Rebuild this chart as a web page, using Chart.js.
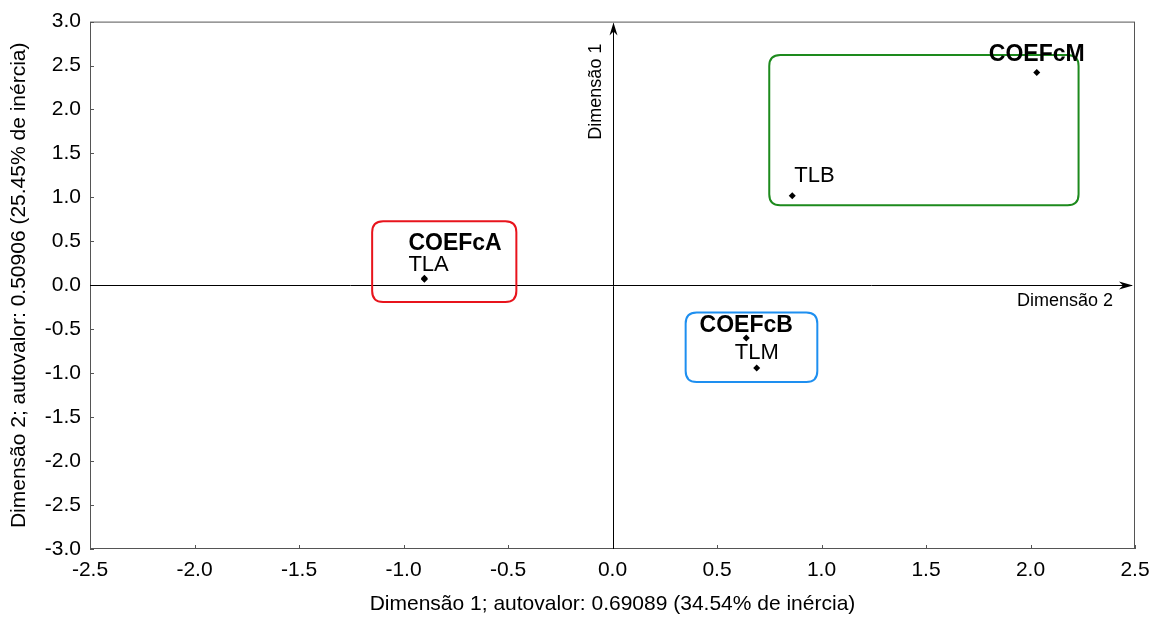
<!DOCTYPE html>
<html>
<head>
<meta charset="utf-8">
<script src="https://cdn.jsdelivr.net/npm/chart.js@4.4.1/dist/chart.umd.min.js"></script>
<style>
  html, body { margin: 0; padding: 0; background: #fff; }
  #wrap { width: 1163px; height: 619px; }
</style>
</head>
<body>
<div id="wrap"><canvas id="mapa"></canvas></div>
<script>
// coordenadas dos pontos (dimensão 1, dimensão 2)
const pointNames = ['COEFcA', 'TLA', 'COEFcB', 'TLM', 'COEFcM', 'TLB'];
const dim1 = [-0.90, -0.90, 0.64, 0.69, 2.03, 0.86];
const dim2 = [0.08, 0.07, -0.60, -0.94, 2.42, 1.02];

// grupos (caixas arredondadas)
const groupColors = ['#e8141c', '#1e8ff0', '#1d8a1d'];
const boxXMin = [-1.15, 0.35, 0.75];
const boxXMax = [-0.46, 0.98, 2.23];
const boxYMin = [-0.19, -1.10, 0.91];
const boxYMax = [0.73, -0.31, 2.62];

const xTitle = 'Dimensão 1; autovalor: 0.69089 (34.54% de inércia)';
const yTitle = 'Dimensão 2; autovalor: 0.50906 (25.45% de inércia)';

const FONT = '"Liberation Sans", Arial, sans-serif';

// deslocamento dos rótulos em px: [dx, dy, align]
const labelOffsets = {
    COEFcA: [-16, -28, 'left'],
    TLA: [-16, -8, 'left'],
    TLB: [2, -14, 'left'],
    COEFcM: [0, -12, 'center'],
    COEFcB: [0, -6, 'center'],
    TLM: [0, -9, 'center']
};

function roundRect(ctx, x, y, w, h, r) {
    ctx.beginPath();
    ctx.moveTo(x + r, y);
    ctx.lineTo(x + w - r, y);
    ctx.quadraticCurveTo(x + w, y, x + w, y + r);
    ctx.lineTo(x + w, y + h - r);
    ctx.quadraticCurveTo(x + w, y + h, x + w - r, y + h);
    ctx.lineTo(x + r, y + h);
    ctx.quadraticCurveTo(x, y + h, x, y + h - r);
    ctx.lineTo(x, y + r);
    ctx.quadraticCurveTo(x, y, x + r, y);
    ctx.closePath();
}

const decorPlugin = {
    id: 'decor',
    beforeDatasetsDraw(chart) {
        const { ctx, chartArea: a, scales } = chart;
        const xs = scales.x, ys = scales.y;
        ctx.save();

        // moldura
        ctx.strokeStyle = '#555';
        ctx.lineWidth = 1;
        ctx.strokeRect(a.left + 0.5, a.top + 0.5, a.right - a.left - 1, a.bottom - a.top - 1);

        // marcas internas
        ctx.beginPath();
        xs.ticks.forEach(t => {
            const px = Math.round(xs.getPixelForValue(t.value)) + 0.5;
            ctx.moveTo(px, a.bottom);
            ctx.lineTo(px, a.bottom - 4);
        });
        ys.ticks.forEach(t => {
            const py = Math.round(ys.getPixelForValue(t.value)) + 0.5;
            ctx.moveTo(a.left, py);
            ctx.lineTo(a.left + 4, py);
        });
        ctx.stroke();

        // eixos em zero com setas
        const x0 = Math.round(xs.getPixelForValue(0)) + 0.5;
        const y0 = Math.round(ys.getPixelForValue(0)) + 0.5;
        ctx.strokeStyle = '#000';
        ctx.fillStyle = '#000';
        ctx.beginPath();
        ctx.moveTo(x0, a.bottom);
        ctx.lineTo(x0, a.top + 2);
        ctx.moveTo(a.left, y0);
        ctx.lineTo(a.right - 3, y0);
        ctx.stroke();

        ctx.beginPath();
        ctx.moveTo(x0, a.top + 1);
        ctx.lineTo(x0 - 4, a.top + 14);
        ctx.lineTo(x0, a.top + 10);
        ctx.lineTo(x0 + 4, a.top + 14);
        ctx.closePath();
        ctx.fill();

        const tipX = a.right - 2;
        ctx.beginPath();
        ctx.moveTo(tipX, y0);
        ctx.lineTo(tipX - 14, y0 - 4);
        ctx.lineTo(tipX - 10, y0);
        ctx.lineTo(tipX - 14, y0 + 4);
        ctx.closePath();
        ctx.fill();

        ctx.font = '18px ' + FONT;
        ctx.fillStyle = '#000';
        ctx.textAlign = 'right';
        ctx.textBaseline = 'alphabetic';
        ctx.fillText('Dimensão 2', tipX - 20, y0 + 20);

        ctx.save();
        ctx.translate(x0 - 13, a.top + 22);
        ctx.rotate(-Math.PI / 2);
        ctx.textAlign = 'right';
        ctx.fillText('Dimensão 1', 0, 0);
        ctx.restore();

        // caixas dos grupos
        ctx.lineWidth = 2;
        groupColors.forEach((c, i) => {
            const l = xs.getPixelForValue(boxXMin[i]);
            const r = xs.getPixelForValue(boxXMax[i]);
            const t = ys.getPixelForValue(boxYMax[i]);
            const b = ys.getPixelForValue(boxYMin[i]);
            ctx.strokeStyle = c;
            roundRect(ctx, l, t, r - l, b - t, 11);
            ctx.stroke();
        });
        ctx.restore();
    },
    afterDatasetsDraw(chart) {
        const { ctx } = chart;
        const meta = chart.getDatasetMeta(0);
        ctx.save();
        ctx.fillStyle = '#000';
        ctx.textBaseline = 'alphabetic';
        meta.data.forEach((pt, i) => {
            const name = pointNames[i];
            const bold = name.startsWith('COEF');
            const off = labelOffsets[name] || [0, -7, 'center'];
            ctx.font = (bold ? 'bold 23px ' : '22px ') + FONT;
            ctx.textAlign = off[2];
            ctx.fillText(name, pt.x + off[0], pt.y + off[1]);
        });
        ctx.restore();
    }
};

const points = dim1.map((v, i) => ({ x: v, y: dim2[i] }));

new Chart(document.getElementById('mapa'), {
    type: 'scatter',
    data: {
        datasets: [{
            data: points,
            pointStyle: 'rectRot',
            pointRadius: 3.5,
            pointHoverRadius: 3.5,
            backgroundColor: '#000',
            borderColor: '#000',
            borderWidth: 0
        }]
    },
    options: {
        responsive: true,
        maintainAspectRatio: false,
        animation: false,
        events: [],
        layout: { padding: { top: 17, right: 28, left: 7, bottom: 2 } },
        plugins: {
            legend: { display: false },
            tooltip: { enabled: false }
        },
        scales: {
            x: {
                type: 'linear',
                min: -2.5,
                max: 2.5,
                grid: { display: false, drawTicks: false },
                border: { display: false },
                ticks: {
                    stepSize: 0.5,
                    padding: 9,
                    color: '#000',
                    font: { family: FONT, size: 21 },
                    maxRotation: 0,
                    callback: v => v.toFixed(1)
                },
                title: {
                    display: true,
                    text: xTitle,
                    color: '#000',
                    font: { family: FONT, size: 21 },
                    padding: { top: 4, bottom: 0 }
                },
                afterFit: s => { s.height = 68; }
            },
            y: {
                type: 'linear',
                min: -3,
                max: 3,
                grid: { display: false, drawTicks: false },
                border: { display: false },
                ticks: {
                    stepSize: 0.5,
                    padding: 9,
                    color: '#000',
                    font: { family: FONT, size: 21 },
                    callback: v => v.toFixed(1)
                },
                title: {
                    display: true,
                    text: yTitle,
                    color: '#000',
                    font: { family: FONT, size: 21 },
                    padding: { top: 0, bottom: 2 }
                },
                afterFit: s => { s.width = 83; }
            }
        }
    },
    plugins: [decorPlugin]
});
</script>
</body>
</html>
